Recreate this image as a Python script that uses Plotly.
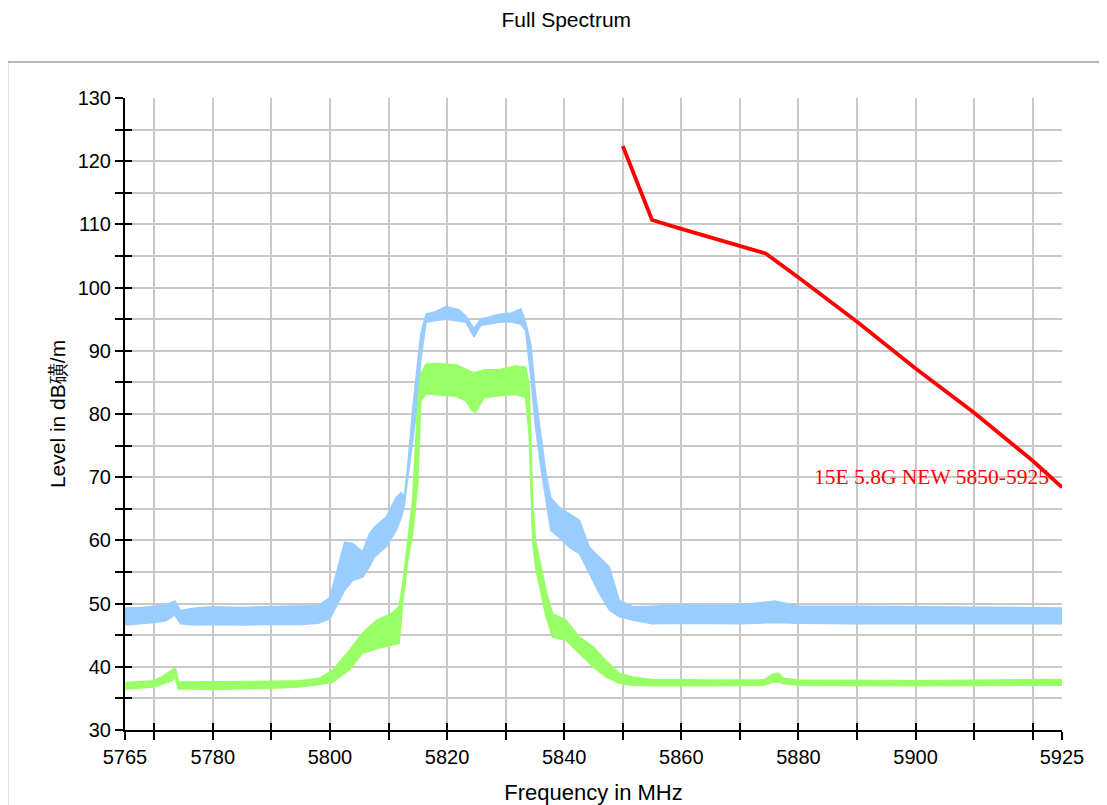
"""
plot.py — Full Spectrum scan (EMC receiver export) redrawn with plotly.
Noisy traces are kept as min/max envelopes read off the plot and drawn as bands.
"""
import plotly.graph_objects as go

# ── Blue trace (upper scan): frequency, envelope low, envelope high ──
BLUE_F = [5765, 5768, 5770, 5772, 5773.5, 5774.5, 5777, 5780, 5785, 5790, 5795, 5798,
          5800, 5801.6, 5802.5, 5803.9, 5805.6, 5806.7, 5807.6, 5809.6, 5811.3, 5812.2,
          5812.7, 5813.3, 5814.1, 5815.0, 5815.5, 5816.4, 5818, 5819.8, 5822, 5823.2,
          5824.6, 5825.7, 5828.9, 5831, 5832.6, 5833.4, 5834.3, 5835.1, 5836.0, 5836.9,
          5837.7, 5839.1, 5840.9, 5842.6, 5844.3, 5846.0, 5847.7, 5849.4, 5851.7, 5855,
          5860, 5865, 5870, 5876, 5880, 5890, 5900, 5910, 5920, 5925]
BLUE_LO = [46.6, 46.8, 47.0, 47.3, 48.2, 46.8, 46.6, 46.7, 46.6, 46.7, 46.7, 46.9,
           47.6, 50.5, 52.1, 53.7, 54.2, 55.8, 57.4, 59.0, 61.6, 63.7,
           65.5, 70.0, 75.8, 82.0, 88.4, 94.5, 94.8, 95.0, 94.7, 94.5,
           92.2, 94.0, 94.5, 94.6, 94.2, 93.2, 85.8, 77.9, 71.6, 66.3,
           61.6, 60.5, 58.9, 57.9, 54.7, 51.6, 49.0, 47.9, 47.4, 46.8,
           46.9, 46.8, 46.8, 47.0, 46.9, 46.8, 46.8, 46.7, 46.7, 46.8]
BLUE_HI = [49.3, 49.4, 49.6, 49.8, 50.4, 48.9, 49.3, 49.5, 49.4, 49.5, 49.6, 49.7,
           51.0, 56.8, 59.7, 59.5, 58.2, 61.0, 62.1, 63.7, 66.8, 67.6,
           67.0, 72.0, 80.5, 88.4, 92.6, 95.8, 96.2, 97.0, 96.5, 95.5,
           93.5, 95.0, 95.8, 96.0, 96.6, 94.6, 91.0, 83.2, 76.8, 70.5,
           66.8, 65.3, 64.2, 63.2, 58.9, 57.4, 55.8, 50.5, 49.5, 49.6,
           49.8, 49.7, 49.8, 50.4, 49.6, 49.6, 49.5, 49.5, 49.4, 49.3]

# ── Green trace (lower scan) ──
GREEN_F = [5765, 5768, 5770, 5771.6, 5773.0, 5773.6, 5774.1, 5777, 5780, 5790, 5794.7, 5798.2,
           5800.5, 5803.3, 5805.5, 5808, 5810.4, 5811.8, 5812.4, 5813.3, 5814.1, 5815.0,
           5815.5, 5816.4, 5818.6, 5821.5, 5823.2, 5824.3, 5824.9, 5826.3, 5828.9, 5831.7,
           5833.4, 5834.0, 5834.3, 5834.6, 5835.1, 5836.0, 5836.9, 5838.0, 5840.3, 5842.6,
           5844.9, 5847.1, 5849.4, 5851.7, 5855, 5865, 5874, 5875.5, 5876.5, 5877.5,
           5880, 5900, 5920, 5925]
GREEN_LO = [36.5, 36.7, 36.8, 37.3, 37.8, 38.3, 36.5, 36.5, 36.4, 36.6, 36.8, 37.2,
            37.6, 39.5, 42.1, 42.9, 43.4, 43.7, 50.0, 56.8, 61.0, 69.0,
            82.0, 83.2, 83.0, 82.8, 82.1, 80.5, 80.3, 82.6, 82.9, 83.1,
            82.6, 76.8, 68.9, 60.0, 55.8, 51.6, 47.9, 44.7, 44.2, 42.1,
            40.0, 38.4, 37.4, 37.1, 37.0, 37.0, 37.1, 37.5, 37.6, 37.3,
            37.1, 37.0, 37.1, 37.1]
GREEN_HI = [37.5, 37.7, 37.8, 38.6, 39.4, 39.8, 37.6, 37.6, 37.6, 37.7, 37.8, 38.2,
            39.5, 42.6, 45.3, 47.4, 48.4, 49.5, 53.0, 60.0, 66.3, 82.0,
            86.3, 87.9, 88.0, 87.8, 87.1, 86.6, 86.6, 87.0, 87.0, 87.6,
            87.4, 84.7, 75.8, 66.3, 60.0, 55.8, 52.1, 48.4, 47.4, 44.7,
            43.2, 41.0, 39.0, 38.4, 38.0, 37.9, 37.9, 38.8, 39.0, 38.2,
            37.9, 37.8, 37.9, 38.0]

# ── Limit line "15E 5.8G NEW 5850-5925" ──
LIMIT_F = [5850, 5855, 5860, 5870, 5874.4, 5880, 5890, 5900, 5910, 5920, 5925]
LIMIT_V = [122.4, 110.7, 109.3, 106.6, 105.4, 101.6, 94.6, 87.2, 80.2, 72.6, 68.4]
LIMIT_NAME = "15E 5.8G NEW 5850-5925"

# ── Axis ticks ──
X_TICKS = [5765] + list(range(5770, 5921, 10)) + [5925]
X_LABELS = {5765, 5780, 5800, 5820, 5840, 5860, 5880, 5900, 5925}
Y_TICKS = list(range(30, 131, 5))

BLUE = "#99ccff"
GREEN = "#99ff66"
RED = "#ff0000"
GRID = "#c8c8c8"
FONT = "Liberation Sans, Arial, sans-serif"


def _band(f, lo, hi, color):
    low = go.Scatter(x=f, y=lo, mode="lines", line=dict(color=color, width=1.5),
                     showlegend=False, hoverinfo="skip")
    high = go.Scatter(x=f, y=hi, mode="lines", line=dict(color=color, width=1.5),
                      fill="tonexty", fillcolor=color, showlegend=False)
    return [low, high]


fig = go.Figure()
for tr in _band(BLUE_F, BLUE_LO, BLUE_HI, BLUE) + _band(GREEN_F, GREEN_LO, GREEN_HI, GREEN):
    fig.add_trace(tr)
fig.add_trace(go.Scatter(x=LIMIT_F, y=LIMIT_V, mode="lines", name=LIMIT_NAME,
                         line=dict(color=RED, width=3.8), showlegend=False))
# empty trace so the overlay axes (inner half of the crossing ticks) get drawn
fig.add_trace(go.Scatter(x=[], y=[], xaxis="x2", yaxis="y2", showlegend=False))

axis_common = dict(showline=True, linecolor="black", linewidth=2, ticks="outside",
                   ticklen=8, tickwidth=2, tickcolor="black", zeroline=False,
                   automargin=False, tickfont=dict(size=20, color="black", family=FONT))

# the page body adds an 8px offset, so the figure is 8px smaller and margins shifted
fig.update_layout(
    width=1099, height=797,
    paper_bgcolor="white", plot_bgcolor="white",
    font=dict(family=FONT, color="black"),
    margin=dict(l=117, r=45, t=90, b=75),
    title=dict(text="Full Spectrum", x=0.508, xanchor="center", y=0.985, yanchor="middle",
               font=dict(size=21, color="black", family=FONT)),
    xaxis=dict(range=[5765, 5925], tickvals=X_TICKS,
               ticktext=[str(v) if v in X_LABELS else "" for v in X_TICKS],
               showgrid=True, gridcolor=GRID, gridwidth=2,
               title=dict(text="Frequency in MHz", font=dict(size=22), standoff=20),
               **axis_common),
    yaxis=dict(range=[30, 130], tickvals=Y_TICKS,
               ticktext=[str(v) if v % 10 == 0 else "" for v in Y_TICKS],
               showgrid=True, gridcolor=GRID, gridwidth=2,
               title=dict(text="Level in dB磺/m", font=dict(size=21), standoff=6),
               **axis_common),
    xaxis2=dict(range=[5765, 5925], overlaying="x", anchor="y2", side="bottom",
                tickvals=X_TICKS, showticklabels=False, showgrid=False, showline=False,
                zeroline=False, ticks="inside", ticklen=7, tickwidth=2, tickcolor="black"),
    yaxis2=dict(range=[30, 130], overlaying="y", anchor="x2", side="left",
                tickvals=Y_TICKS, showticklabels=False, showgrid=False, showline=False,
                zeroline=False, ticks="inside", ticklen=7, tickwidth=2, tickcolor="black"),
    annotations=[dict(x=5902.7, y=70.1, xref="x", yref="y", text=LIMIT_NAME, showarrow=False,
                      font=dict(size=21.5, color=RED, family="Liberation Serif, serif"))],
    shapes=[dict(type="rect", xref="paper", yref="paper", x0=-0.1255, x1=1.2, y0=-0.3, y1=1.057,
                 line=dict(color="#b4b4b4", width=2), layer="below")],
)

fig.write_html("out.html")
